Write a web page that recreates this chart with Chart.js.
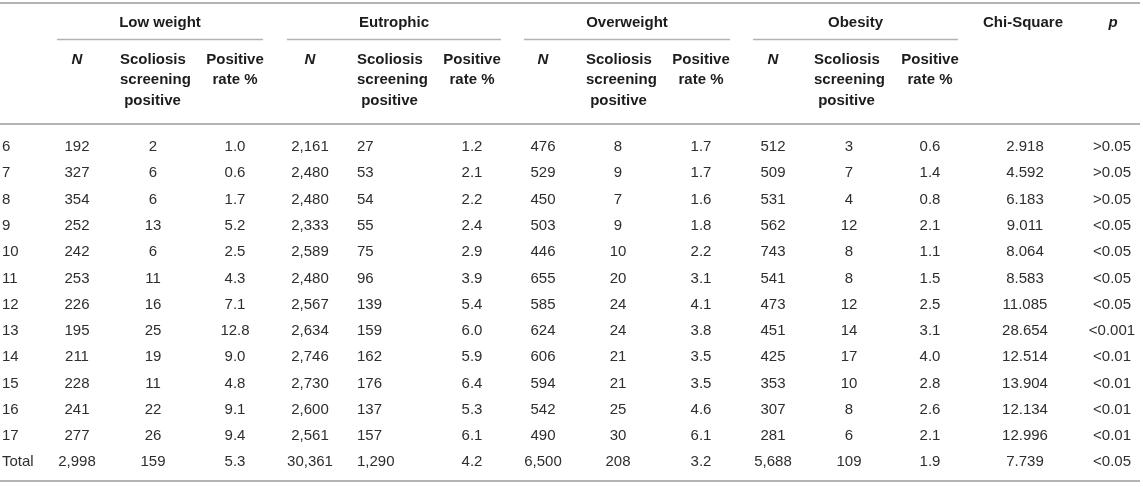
<!DOCTYPE html>
<html>
<head>
<meta charset="utf-8">
<script src="https://cdn.jsdelivr.net/npm/chart.js@4/dist/chart.umd.min.js"></script>
<style>
  html, body { margin: 0; padding: 0; background: #fff; }
  #wrap { width: 1143px; height: 487px; }
</style>
</head>
<body>
<div id="wrap"><canvas id="tbl" width="1143" height="487"></canvas></div>
<script>
// table values, one array per column
const ages = ["6", "7", "8", "9", "10", "11", "12", "13", "14", "15", "16", "17", "Total"];
const lowN = [192, 327, 354, 252, 242, 253, 226, 195, 211, 228, 241, 277, 2998];
const lowPos = [2, 6, 6, 13, 6, 11, 16, 25, 19, 11, 22, 26, 159];
const lowRate = [1.0, 0.6, 1.7, 5.2, 2.5, 4.3, 7.1, 12.8, 9.0, 4.8, 9.1, 9.4, 5.3];
const eutN = [2161, 2480, 2480, 2333, 2589, 2480, 2567, 2634, 2746, 2730, 2600, 2561, 30361];
const eutPos = [27, 53, 54, 55, 75, 96, 139, 159, 162, 176, 137, 157, 1290];
const eutRate = [1.2, 2.1, 2.2, 2.4, 2.9, 3.9, 5.4, 6.0, 5.9, 6.4, 5.3, 6.1, 4.2];
const overN = [476, 529, 450, 503, 446, 655, 585, 624, 606, 594, 542, 490, 6500];
const overPos = [8, 9, 7, 9, 10, 20, 24, 24, 21, 21, 25, 30, 208];
const overRate = [1.7, 1.7, 1.6, 1.8, 2.2, 3.1, 4.1, 3.8, 3.5, 3.5, 4.6, 6.1, 3.2];
const obN = [512, 509, 531, 562, 743, 541, 473, 451, 425, 353, 307, 281, 5688];
const obPos = [3, 7, 4, 12, 8, 8, 12, 14, 17, 10, 8, 6, 109];
const obRate = [0.6, 1.4, 0.8, 2.1, 1.1, 1.5, 2.5, 3.1, 4.0, 2.8, 2.6, 2.1, 1.9];
const chiSquare = [2.918, 4.592, 6.183, 9.011, 8.064, 8.583, 11.085, 28.654, 12.514, 13.904, 12.134, 12.996, 7.739];
const pValues = [">0.05", ">0.05", ">0.05", "<0.05", "<0.05", "<0.05", "<0.05", "<0.001", "<0.01", "<0.01", "<0.01", "<0.01", "<0.05"];

const groups = ["Low weight", "Eutrophic", "Overweight", "Obesity"];
const subHeadN = "N";
const subHeadPos = ["Scoliosis", "screening", " positive"];
const subHeadRate = ["Positive", "rate %"];
const chiHead = "Chi-Square";
const pHead = "p";

// formatting helpers
const fmtInt = v => v.toLocaleString("en-US");
const fmt1 = v => v.toFixed(1);
const fmt3 = v => v.toFixed(3);

// layout (x in canvas units, y in row units)
const FONT = "'Liberation Sans', Arial, Helvetica, sans-serif";
const groupX = [
  { from: 57, to: 263, n: 77, pos: 153, posHead: 120, rate: 235 },
  { from: 287, to: 501, n: 310, pos: 357, posHead: 357, rate: 472 },
  { from: 524, to: 730, n: 543, pos: 618, posHead: 586, rate: 701 },
  { from: 753, to: 958, n: 773, pos: 849, posHead: 814, rate: 930 }
];
const chiX = 1025;
const pX = 1112;

const columns = [
  { vals: ages, f: String, x: 2, align: "left" },
  { vals: lowN, f: fmtInt, x: groupX[0].n, align: "center" },
  { vals: lowPos, f: String, x: groupX[0].pos, align: "center" },
  { vals: lowRate, f: fmt1, x: groupX[0].rate, align: "center" },
  { vals: eutN, f: fmtInt, x: groupX[1].n, align: "center" },
  { vals: eutPos, f: fmtInt, x: groupX[1].pos, align: "left" },
  { vals: eutRate, f: fmt1, x: groupX[1].rate, align: "center" },
  { vals: overN, f: fmtInt, x: groupX[2].n, align: "center" },
  { vals: overPos, f: String, x: groupX[2].pos, align: "center" },
  { vals: overRate, f: fmt1, x: groupX[2].rate, align: "center" },
  { vals: obN, f: fmtInt, x: groupX[3].n, align: "center" },
  { vals: obPos, f: String, x: groupX[3].pos, align: "center" },
  { vals: obRate, f: fmt1, x: groupX[3].rate, align: "center" },
  { vals: chiSquare, f: fmt3, x: chiX, align: "center" },
  { vals: pValues, f: String, x: pX, align: "center" }
];

// one invisible scatter dataset per column, the plugin writes the text on its points
const datasets = columns.map(c => ({
  data: c.vals.map((v, i) => ({ x: c.x, y: i })),
  pointRadius: 0,
  pointHoverRadius: 0,
  showLine: false
}));

const tablePlugin = {
  id: "tableText",
  afterDatasetsDraw(chart) {
    const ctx = chart.ctx;
    const xs = chart.scales.x;
    const ys = chart.scales.y;
    const px = v => xs.getPixelForValue(v);
    const py = v => ys.getPixelForValue(v);

    ctx.save();
    // rules
    ctx.strokeStyle = "#b3b3b3";
    const hline = (x0, x1, y, w) => {
      ctx.lineWidth = w;
      ctx.beginPath();
      ctx.moveTo(px(x0), py(y));
      ctx.lineTo(px(x1), py(y));
      ctx.stroke();
    };
    hline(0, 1140, -5.48, 2);
    groupX.forEach(g => hline(g.from, g.to, -4.09, 1.5));
    hline(0, 1140, -0.875, 2);
    hline(0, 1140, 12.71, 2);

    // headers
    ctx.fillStyle = "#1c1c1c";
    ctx.textBaseline = "middle";
    ctx.font = "bold 15px " + FONT;
    ctx.textAlign = "center";
    groups.forEach((g, i) => ctx.fillText(g, px((groupX[i].from + groupX[i].to) / 2), py(-4.73)));
    ctx.fillText(chiHead, px(chiX - 2), py(-4.73));
    ctx.font = "italic bold 15px " + FONT;
    ctx.fillText(pHead, px(pX + 1), py(-4.73));

    const subY = [-3.33, -2.55, -1.77];
    groupX.forEach(g => {
      ctx.font = "italic bold 15px " + FONT;
      ctx.textAlign = "center";
      ctx.fillText(subHeadN, px(g.n), py(subY[0]));
      ctx.font = "bold 15px " + FONT;
      ctx.textAlign = "left";
      subHeadPos.forEach((t, i) => ctx.fillText(t, px(g.posHead), py(subY[i])));
      ctx.textAlign = "center";
      subHeadRate.forEach((t, i) => ctx.fillText(t, px(g.rate), py(subY[i])));
    });

    // cells
    ctx.fillStyle = "#2e2e2e";
    ctx.font = "15px " + FONT;
    columns.forEach((c, ci) => {
      ctx.textAlign = c.align;
      chart.getDatasetMeta(ci).data.forEach((pt, i) => {
        ctx.fillText(c.f(c.vals[i]), pt.x, pt.y);
      });
    });
    ctx.restore();
  }
};

new Chart(document.getElementById("tbl"), {
  type: "scatter",
  data: { datasets: datasets },
  options: {
    responsive: false,
    animation: false,
    layout: { padding: 0 },
    scales: {
      x: { type: "linear", display: false, min: 0, max: 1143 },
      y: { type: "linear", display: false, reverse: true, min: -5.596, max: 12.942 }
    },
    plugins: {
      legend: { display: false },
      tooltip: { enabled: false }
    }
  },
  plugins: [tablePlugin]
});
</script>
</body>
</html>
